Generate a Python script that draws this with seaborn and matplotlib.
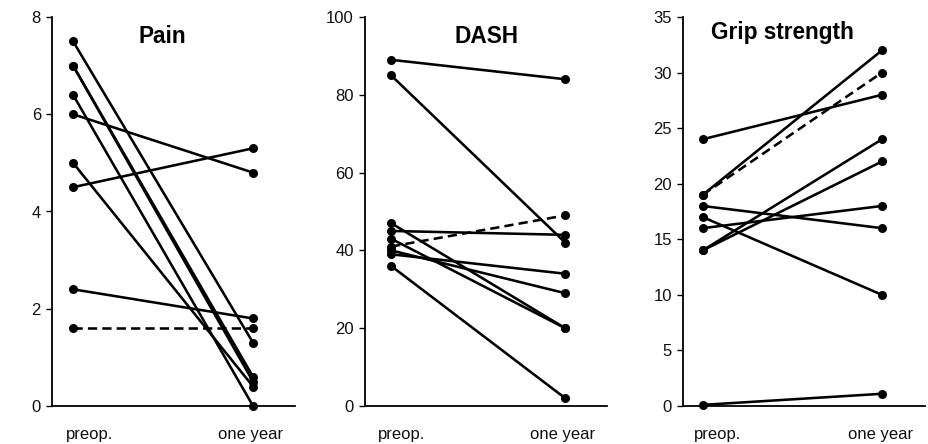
import matplotlib
matplotlib.use("Agg")
import matplotlib.pyplot as plt
import matplotlib.transforms as mtransforms
import seaborn as sns
import pandas as pd

sns.set_theme(style="white")
plt.rcParams['font.family'] = ['Liberation Sans', 'DejaVu Sans']

times = ["preop.", "one year"]

pain_preop = [7.5, 7.0, 7.0, 6.4, 6.0, 5.0, 4.5, 2.4, 1.6]
pain_1yr = [1.3, 0.6, 0.5, 0.0, 4.8, 0.4, 5.3, 1.8, 1.6]
pain_dashed = 8

dash_preop = [89, 85, 47, 45, 43, 41, 40, 39, 36]
dash_1yr = [84, 42, 20, 44, 20, 49, 29, 34, 2]
dash_dashed = 5

grip_preop = [24, 19, 19, 18, 17, 16, 14, 14, 0.1]
grip_1yr = [28, 32, 30, 16, 10, 18, 24, 22, 1.1]
grip_dashed = 2

panels = [
    ("Pain", pain_preop, pain_1yr, pain_dashed, [0, 2, 4, 6, 8], (0, 8)),
    ("DASH", dash_preop, dash_1yr, dash_dashed, [0, 20, 40, 60, 80, 100], (0, 100)),
    ("Grip strength", grip_preop, grip_1yr, grip_dashed, [0, 5, 10, 15, 20, 25, 30, 35], (0, 35)),
]

W, H = 929, 444
fig = plt.figure(figsize=(W / 100, H / 100), dpi=100)

# axis left px, axis right px, xlim, title position (axes fraction), label shifts (px)
geom = [
    (52, 295, (-0.117, 1.233), (0.453, 0.951), (16, -2)),
    (365, 607, (-0.15, 1.24), (0.504, 0.949), (10, -3)),
    (683, 925, (-0.11, 1.24), (0.409, 0.959), (15, -1)),
]
top_px, bot_px = 17, 406

for (title, pre, post, dashed_idx, yticks, ylim), (lpx, rpx, xlim, tpos, shifts) in zip(panels, geom):
    ax = fig.add_axes([lpx / W, (H - bot_px) / H, (rpx - lpx) / W, (bot_px - top_px) / H])
    rows = []
    for i, (a, b) in enumerate(zip(pre, post)):
        kind = "dashed" if i == dashed_idx else "solid"
        rows.append({"subject": i, "t": 0, "value": a, "kind": kind})
        rows.append({"subject": i, "t": 1, "value": b, "kind": kind})
    df = pd.DataFrame(rows)
    sns.lineplot(data=df, x="t", y="value", units="subject", estimator=None,
                 style="kind", dashes={"solid": "", "dashed": (3.6, 2.0)},
                 markers={"solid": "o", "dashed": "o"}, color="black",
                 linewidth=1.85, markersize=6.5, markeredgewidth=0,
                 legend=False, ax=ax, clip_on=False)
    ax.set_xlim(*xlim)
    ax.set_ylim(*ylim)
    ax.set_yticks(yticks)
    ax.set_xticks([0, 1])
    ax.set_xticklabels(times)
    ax.set_xlabel("")
    ax.set_ylabel("")
    for s in ["top", "right"]:
        ax.spines[s].set_visible(False)
    for s in ["left", "bottom"]:
        ax.spines[s].set_color("black")
        ax.spines[s].set_linewidth(1.3)
    ax.tick_params(axis="y", which="both", left=True, length=4, width=1.0,
                   color="black", labelsize=12, pad=4, labelcolor="#111111")
    ax.tick_params(axis="x", length=0, labelsize=12, pad=15, labelcolor="#111111")
    for lab, dx in zip(ax.get_xticklabels(), shifts):
        lab.set_transform(lab.get_transform() +
                          mtransforms.ScaledTranslation(dx / 100, 0, fig.dpi_scale_trans))
    ax.text(tpos[0], tpos[1], title, transform=ax.transAxes, ha="center", va="center",
            fontsize=16.3, fontweight="bold", color="black")

fig.savefig("out.png", dpi=100)
